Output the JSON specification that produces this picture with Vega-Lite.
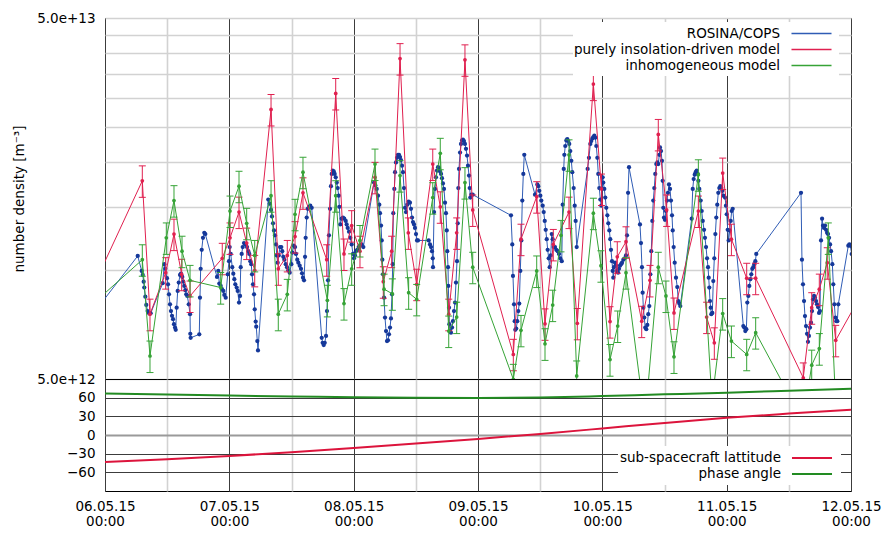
{
"$schema": "https://vega.github.io/schema/vega-lite/v6.json",
"background": "white",
"padding": {"left": 12, "top": 10, "right": 0, "bottom": 0},
"spacing": 0,
"bounds": "flush",
"config": {
 "font": "DejaVu Sans",
 "axis": {"labelFont": "DejaVu Sans", "labelFontSize": 13.5, "labelColor": "#000", "titleFont": "DejaVu Sans", "titleFontSize": 13.5, "titleFontWeight": "normal", "titleColor": "#000", "ticks": false, "domain": false, "gridOpacity": 1, "labelPadding": 10},
 "legend": {"labelFont": "DejaVu Sans", "labelFontSize": 13.5, "labelColor": "#000"},
 "view": {"stroke": "#000", "strokeWidth": 1}
},
"resolve": {"scale": {"x": "independent", "y": "independent", "color": "independent"}, "legend": {"color": "independent"}},
"datasets": {
"cops": [
{"t":"2015-05-05T22:04Z","v":7.70e12},{"t":"2015-05-06T06:19Z","v":10.96e12},{"t":"2015-05-06T07:05Z","v":9.96e12},{"t":"2015-05-06T07:17Z","v":9.71e12},{"t":"2015-05-06T07:28Z","v":9.30e12},{"t":"2015-05-06T07:35Z","v":8.96e12},{"t":"2015-05-06T07:47Z","v":8.45e12},{"t":"2015-05-06T07:58Z","v":8.02e12},{"t":"2015-05-06T08:14Z","v":7.71e12},{"t":"2015-05-06T08:30Z","v":7.60e12},{"t":"2015-05-06T08:49Z","v":7.60e12},
{"t":"2015-05-06T11:08Z","v":9.21e12},{"t":"2015-05-06T11:27Z","v":10.4e12},{"t":"2015-05-06T11:38Z","v":10.1e12},{"t":"2015-05-06T11:58Z","v":9.51e12},{"t":"2015-05-06T12:10Z","v":9.15e12},{"t":"2015-05-06T12:21Z","v":8.58e12},{"t":"2015-05-06T12:33Z","v":8.05e12},{"t":"2015-05-06T12:44Z","v":7.71e12},{"t":"2015-05-06T12:56Z","v":7.48e12},{"t":"2015-05-06T13:08Z","v":7.32e12},{"t":"2015-05-06T13:19Z","v":7.09e12},{"t":"2015-05-06T13:31Z","v":6.94e12},{"t":"2015-05-06T13:39Z","v":6.84e12},{"t":"2015-05-06T13:50Z","v":7.88e12},{"t":"2015-05-06T14:02Z","v":8.77e12},{"t":"2015-05-06T14:14Z","v":9.25e12},{"t":"2015-05-06T14:29Z","v":9.71e12},{"t":"2015-05-06T14:40Z","v":9.79e12},{"t":"2015-05-06T14:55Z","v":9.59e12},{"t":"2015-05-06T15:07Z","v":9.30e12},{"t":"2015-05-06T15:18Z","v":9.05e12},{"t":"2015-05-06T15:30Z","v":8.81e12},{"t":"2015-05-06T15:41Z","v":8.58e12},{"t":"2015-05-06T15:53Z","v":8.49e12},{"t":"2015-05-06T16:10Z","v":8.05e12},{"t":"2015-05-06T16:25Z","v":7.56e12},{"t":"2015-05-06T16:28Z","v":6.67e12},{"t":"2015-05-06T16:32Z","v":6.50e12},
{"t":"2015-05-06T18:12Z","v":6.65e12},{"t":"2015-05-06T18:20Z","v":8.40e12},{"t":"2015-05-06T18:28Z","v":10.1e12},{"t":"2015-05-06T18:40Z","v":11.4e12},{"t":"2015-05-06T18:55Z","v":12.3e12},{"t":"2015-05-06T19:10Z","v":12.7e12},{"t":"2015-05-06T19:22Z","v":12.6e12},
{"t":"2015-05-06T21:37Z","v":9.59e12},{"t":"2015-05-06T21:52Z","v":9.96e12},{"t":"2015-05-06T22:04Z","v":9.19e12},{"t":"2015-05-06T22:20Z","v":9.05e12},{"t":"2015-05-06T22:35Z","v":8.87e12},{"t":"2015-05-06T22:50Z","v":8.77e12},{"t":"2015-05-06T23:02Z","v":8.55e12},{"t":"2015-05-06T23:18Z","v":8.40e12},{"t":"2015-05-06T23:41Z","v":9.75e12},{"t":"2015-05-06T23:56Z","v":10.6e12},
{"t":"2015-05-07T00:04Z","v":11.6e12},{"t":"2015-05-07T00:16Z","v":11.1e12},{"t":"2015-05-07T00:34Z","v":10.2e12},{"t":"2015-05-07T00:46Z","v":9.79e12},{"t":"2015-05-07T00:58Z","v":9.45e12},{"t":"2015-05-07T01:09Z","v":9.15e12},{"t":"2015-05-07T01:25Z","v":8.96e12},{"t":"2015-05-07T01:37Z","v":8.77e12},{"t":"2015-05-07T01:52Z","v":8.14e12},{"t":"2015-05-07T02:04Z","v":8.49e12},{"t":"2015-05-07T02:12Z","v":10.2e12},{"t":"2015-05-07T02:23Z","v":11.1e12},{"t":"2015-05-07T02:35Z","v":11.6e12},{"t":"2015-05-07T02:50Z","v":11.9e12},{"t":"2015-05-07T03:10Z","v":11.8e12},{"t":"2015-05-07T03:25Z","v":11.6e12},{"t":"2015-05-07T03:40Z","v":11.3e12},{"t":"2015-05-07T03:51Z","v":11.1e12},{"t":"2015-05-07T04:03Z","v":10.6e12},{"t":"2015-05-07T04:14Z","v":10.4e12},{"t":"2015-05-07T04:23Z","v":9.75e12},{"t":"2015-05-07T04:34Z","v":9.15e12},{"t":"2015-05-07T04:46Z","v":8.58e12},{"t":"2015-05-07T04:54Z","v":7.80e12},{"t":"2015-05-07T05:05Z","v":7.21e12},{"t":"2015-05-07T05:12Z","v":6.98e12},{"t":"2015-05-07T05:24Z","v":6.37e12},{"t":"2015-05-07T05:32Z","v":6.00e12},
{"t":"2015-05-07T07:31Z","v":15.7e12},{"t":"2015-05-07T07:47Z","v":15.3e12},{"t":"2015-05-07T08:03Z","v":14.7e12},{"t":"2015-05-07T08:14Z","v":14.1e12},{"t":"2015-05-07T08:26Z","v":13.5e12},{"t":"2015-05-07T08:37Z","v":12.9e12},{"t":"2015-05-07T08:49Z","v":12.5e12},{"t":"2015-05-07T09:01Z","v":11.8e12},{"t":"2015-05-07T09:09Z","v":11.0e12},{"t":"2015-05-07T09:20Z","v":10.5e12},{"t":"2015-05-07T09:32Z","v":11.0e12},{"t":"2015-05-07T09:47Z","v":11.6e12},{"t":"2015-05-07T10:02Z","v":11.6e12},{"t":"2015-05-07T10:13Z","v":11.3e12},{"t":"2015-05-07T10:25Z","v":10.9e12},{"t":"2015-05-07T10:37Z","v":10.7e12},{"t":"2015-05-07T10:53Z","v":10.4e12},{"t":"2015-05-07T11:08Z","v":10.2e12},{"t":"2015-05-07T11:23Z","v":10.0e12},{"t":"2015-05-07T11:39Z","v":9.85e12},{"t":"2015-05-07T11:58Z","v":10.4e12},{"t":"2015-05-07T12:09Z","v":11.2e12},{"t":"2015-05-07T12:26Z","v":11.7e12},{"t":"2015-05-07T12:41Z","v":11.6e12},{"t":"2015-05-07T12:52Z","v":11.1e12},{"t":"2015-05-07T13:07Z","v":10.7e12},{"t":"2015-05-07T13:19Z","v":10.5e12},{"t":"2015-05-07T13:35Z","v":10.3e12},{"t":"2015-05-07T13:50Z","v":10.1e12},{"t":"2015-05-07T14:02Z","v":9.81e12},{"t":"2015-05-07T14:13Z","v":9.54e12},{"t":"2015-05-07T14:25Z","v":9.38e12},{"t":"2015-05-07T14:37Z","v":10.9e12},{"t":"2015-05-07T14:44Z","v":12.3e12},{"t":"2015-05-07T14:56Z","v":14.0e12},{"t":"2015-05-07T15:08Z","v":14.8e12},{"t":"2015-05-07T15:23Z","v":15.0e12},{"t":"2015-05-07T15:38Z","v":15.1e12},{"t":"2015-05-07T15:54Z","v":14.9e12},
{"t":"2015-05-07T17:50Z","v":6.50e12},{"t":"2015-05-07T18:01Z","v":6.30e12},{"t":"2015-05-07T18:13Z","v":6.21e12},{"t":"2015-05-07T18:25Z","v":6.30e12},{"t":"2015-05-07T18:40Z","v":6.58e12},{"t":"2015-05-07T18:51Z","v":7.71e12},{"t":"2015-05-07T19:03Z","v":9.38e12},{"t":"2015-05-07T19:14Z","v":12.5e12},{"t":"2015-05-07T19:26Z","v":14.8e12},{"t":"2015-05-07T19:37Z","v":17.1e12},{"t":"2015-05-07T19:46Z","v":18.5e12},{"t":"2015-05-07T19:57Z","v":18.9e12},{"t":"2015-05-07T20:09Z","v":18.8e12},{"t":"2015-05-07T20:20Z","v":18.5e12},{"t":"2015-05-07T20:32Z","v":18.1e12},{"t":"2015-05-07T20:44Z","v":17.5e12},{"t":"2015-05-07T20:55Z","v":16.9e12},{"t":"2015-05-07T21:07Z","v":16.1e12},{"t":"2015-05-07T21:14Z","v":15.0e12},{"t":"2015-05-07T21:25Z","v":13.4e12},{"t":"2015-05-07T21:41Z","v":13.9e12},{"t":"2015-05-07T21:56Z","v":14.0e12},{"t":"2015-05-07T22:11Z","v":13.9e12},{"t":"2015-05-07T22:28Z","v":13.7e12},{"t":"2015-05-07T22:39Z","v":13.4e12},{"t":"2015-05-07T22:51Z","v":13.1e12},{"t":"2015-05-07T23:06Z","v":12.8e12},{"t":"2015-05-07T23:21Z","v":12.3e12},{"t":"2015-05-07T23:37Z","v":11.8e12},{"t":"2015-05-07T23:52Z","v":11.1e12},
{"t":"2015-05-08T00:04Z","v":10.8e12},{"t":"2015-05-08T00:15Z","v":11.0e12},{"t":"2015-05-08T00:27Z","v":11.3e12},{"t":"2015-05-08T00:42Z","v":11.4e12},{"t":"2015-05-08T00:58Z","v":11.6e12},{"t":"2015-05-08T01:13Z","v":11.7e12},{"t":"2015-05-08T01:33Z","v":11.8e12},{"t":"2015-05-08T01:52Z","v":11.6e12},
{"t":"2015-05-08T03:56Z","v":17.5e12},{"t":"2015-05-08T04:11Z","v":17.2e12},{"t":"2015-05-08T04:27Z","v":16.8e12},{"t":"2015-05-08T04:42Z","v":16.1e12},{"t":"2015-05-08T04:57Z","v":15.2e12},{"t":"2015-05-08T05:05Z","v":14.4e12},{"t":"2015-05-08T05:17Z","v":13.3e12},{"t":"2015-05-08T05:25Z","v":12.1e12},{"t":"2015-05-08T05:32Z","v":10.7e12},{"t":"2015-05-08T05:40Z","v":9.75e12},{"t":"2015-05-08T05:52Z","v":8.40e12},{"t":"2015-05-08T06:03Z","v":7.40e12},{"t":"2015-05-08T06:15Z","v":6.79e12},{"t":"2015-05-08T06:26Z","v":6.37e12},{"t":"2015-05-08T06:38Z","v":6.40e12},{"t":"2015-05-08T06:49Z","v":6.65e12},{"t":"2015-05-08T07:01Z","v":6.94e12},{"t":"2015-05-08T07:12Z","v":7.36e12},{"t":"2015-05-08T07:24Z","v":8.58e12},{"t":"2015-05-08T07:32Z","v":10.4e12},{"t":"2015-05-08T07:39Z","v":14.4e12},{"t":"2015-05-08T07:51Z","v":16.8e12},{"t":"2015-05-08T07:59Z","v":18.7e12},{"t":"2015-05-08T08:10Z","v":19.9e12},{"t":"2015-05-08T08:22Z","v":20.5e12},{"t":"2015-05-08T08:33Z","v":20.9e12},{"t":"2015-05-08T08:45Z","v":20.9e12},{"t":"2015-05-08T08:57Z","v":20.6e12},{"t":"2015-05-08T09:08Z","v":20.2e12},{"t":"2015-05-08T09:20Z","v":19.5e12},{"t":"2015-05-08T09:31Z","v":18.7e12},{"t":"2015-05-08T09:43Z","v":16.9e12},{"t":"2015-05-08T09:55Z","v":14.9e12},{"t":"2015-05-08T10:06Z","v":14.5e12},{"t":"2015-05-08T10:21Z","v":15.2e12},{"t":"2015-05-08T10:37Z","v":15.5e12},{"t":"2015-05-08T10:52Z","v":15.4e12},{"t":"2015-05-08T11:04Z","v":14.8e12},{"t":"2015-05-08T11:16Z","v":14.0e12},{"t":"2015-05-08T11:27Z","v":13.6e12},{"t":"2015-05-08T11:39Z","v":13.4e12},{"t":"2015-05-08T11:50Z","v":13.1e12},{"t":"2015-05-08T12:02Z","v":12.6e12},{"t":"2015-05-08T12:14Z","v":12.1e12},{"t":"2015-05-08T12:25Z","v":12.1e12},
{"t":"2015-05-08T14:29Z","v":12.1e12},{"t":"2015-05-08T14:44Z","v":11.8e12},{"t":"2015-05-08T14:56Z","v":11.6e12},{"t":"2015-05-08T15:07Z","v":11.3e12},{"t":"2015-05-08T15:16Z","v":10.8e12},{"t":"2015-05-08T15:19Z","v":10.2e12},{"t":"2015-05-08T15:31Z","v":14.5e12},{"t":"2015-05-08T15:42Z","v":16.8e12},{"t":"2015-05-08T15:53Z","v":18.1e12},{"t":"2015-05-08T16:05Z","v":18.9e12},{"t":"2015-05-08T16:17Z","v":19.3e12},{"t":"2015-05-08T16:28Z","v":19.2e12},{"t":"2015-05-08T16:40Z","v":18.8e12},{"t":"2015-05-08T16:52Z","v":18.5e12},{"t":"2015-05-08T17:03Z","v":18.0e12},{"t":"2015-05-08T17:14Z","v":17.4e12},{"t":"2015-05-08T17:26Z","v":16.8e12},{"t":"2015-05-08T17:38Z","v":15.4e12},{"t":"2015-05-08T17:49Z","v":14.4e12},{"t":"2015-05-08T17:58Z","v":12.9e12},{"t":"2015-05-08T18:04Z","v":11.3e12},{"t":"2015-05-08T18:13Z","v":10.2e12},{"t":"2015-05-08T18:16Z","v":9.05e12},{"t":"2015-05-08T18:24Z","v":7.88e12},{"t":"2015-05-08T18:28Z","v":7.09e12},{"t":"2015-05-08T18:36Z","v":6.79e12},{"t":"2015-05-08T18:47Z","v":6.72e12},{"t":"2015-05-08T18:59Z","v":6.94e12},{"t":"2015-05-08T19:10Z","v":7.23e12},{"t":"2015-05-08T19:22Z","v":7.71e12},{"t":"2015-05-08T19:34Z","v":8.14e12},{"t":"2015-05-08T19:45Z","v":9.25e12},{"t":"2015-05-08T19:57Z","v":10.6e12},{"t":"2015-05-08T20:05Z","v":13.5e12},{"t":"2015-05-08T20:12Z","v":16.9e12},{"t":"2015-05-08T20:20Z","v":19.1e12},{"t":"2015-05-08T20:32Z","v":21.2e12},{"t":"2015-05-08T20:43Z","v":22.4e12},{"t":"2015-05-08T20:55Z","v":22.9e12},{"t":"2015-05-08T21:06Z","v":23.0e12},{"t":"2015-05-08T21:18Z","v":22.8e12},{"t":"2015-05-08T21:29Z","v":22.4e12},{"t":"2015-05-08T21:41Z","v":21.7e12},{"t":"2015-05-08T21:53Z","v":20.8e12},{"t":"2015-05-08T22:04Z","v":19.5e12},{"t":"2015-05-08T22:16Z","v":18.3e12},{"t":"2015-05-08T22:24Z","v":16.9e12},{"t":"2015-05-08T22:31Z","v":15.9e12},{"t":"2015-05-08T22:43Z","v":16.2e12},{"t":"2015-05-08T22:59Z","v":16.2e12},
{"t":"2015-05-09T06:22Z","v":14.2e12},{"t":"2015-05-09T06:37Z","v":11.8e12},{"t":"2015-05-09T06:45Z","v":9.65e12},{"t":"2015-05-09T06:57Z","v":8.05e12},{"t":"2015-05-09T07:05Z","v":7.23e12},{"t":"2015-05-09T07:12Z","v":6.84e12},{"t":"2015-05-09T07:23Z","v":6.90e12},{"t":"2015-05-09T07:35Z","v":7.23e12},{"t":"2015-05-09T07:47Z","v":7.71e12},{"t":"2015-05-09T07:58Z","v":8.09e12},{"t":"2015-05-09T08:10Z","v":9.96e12},{"t":"2015-05-09T08:22Z","v":12.1e12},{"t":"2015-05-09T08:33Z","v":15.6e12},{"t":"2015-05-09T08:45Z","v":18.5e12},{"t":"2015-05-09T08:56Z","v":20.9e12},
{"t":"2015-05-09T11:00Z","v":16.2e12},{"t":"2015-05-09T11:27Z","v":17.3e12},{"t":"2015-05-09T11:38Z","v":17.1e12},{"t":"2015-05-09T11:50Z","v":16.6e12},{"t":"2015-05-09T12:02Z","v":16.1e12},{"t":"2015-05-09T12:13Z","v":15.6e12},{"t":"2015-05-09T12:29Z","v":15.1e12},{"t":"2015-05-09T12:41Z","v":14.5e12},{"t":"2015-05-09T12:53Z","v":13.7e12},{"t":"2015-05-09T13:04Z","v":12.95e12},{"t":"2015-05-09T13:16Z","v":12.2e12},{"t":"2015-05-09T13:27Z","v":11.4e12},{"t":"2015-05-09T13:39Z","v":10.8e12},{"t":"2015-05-09T13:50Z","v":10.2e12},{"t":"2015-05-09T14:02Z","v":11.0e12},{"t":"2015-05-09T14:14Z","v":12.6e12},{"t":"2015-05-09T14:25Z","v":12.2e12},{"t":"2015-05-09T14:37Z","v":11.6e12},{"t":"2015-05-09T14:52Z","v":11.6e12},{"t":"2015-05-09T15:07Z","v":11.4e12},{"t":"2015-05-09T15:23Z","v":11.3e12},{"t":"2015-05-09T15:38Z","v":11.1e12},{"t":"2015-05-09T15:53Z","v":10.8e12},{"t":"2015-05-09T16:10Z","v":10.6e12},{"t":"2015-05-09T16:21Z","v":15.2e12},{"t":"2015-05-09T16:33Z","v":19.1e12},{"t":"2015-05-09T16:40Z","v":20.9e12},{"t":"2015-05-09T16:51Z","v":22.1e12},{"t":"2015-05-09T17:03Z","v":22.9e12},{"t":"2015-05-09T17:14Z","v":23.1e12},{"t":"2015-05-09T17:26Z","v":22.8e12},{"t":"2015-05-09T17:37Z","v":22.4e12},{"t":"2015-05-09T17:49Z","v":21.4e12},{"t":"2015-05-09T18:01Z","v":20.1e12},{"t":"2015-05-09T18:12Z","v":18.7e12},{"t":"2015-05-09T18:28Z","v":16.9e12},{"t":"2015-05-09T18:40Z","v":15.1e12},{"t":"2015-05-09T18:51Z","v":13.7e12},{"t":"2015-05-09T19:03Z","v":11.6e12},
{"t":"2015-05-09T21:10Z","v":19.1e12},{"t":"2015-05-09T21:25Z","v":20.5e12},{"t":"2015-05-09T21:41Z","v":22.4e12},{"t":"2015-05-09T21:52Z","v":22.8e12},{"t":"2015-05-09T22:04Z","v":23.2e12},{"t":"2015-05-09T22:16Z","v":23.4e12},{"t":"2015-05-09T22:27Z","v":23.6e12},{"t":"2015-05-09T22:38Z","v":23.3e12},{"t":"2015-05-09T22:50Z","v":22.1e12},{"t":"2015-05-09T23:02Z","v":20.5e12},{"t":"2015-05-09T23:13Z","v":18.5e12},{"t":"2015-05-09T23:25Z","v":16.9e12},{"t":"2015-05-09T23:37Z","v":15.7e12},{"t":"2015-05-09T23:48Z","v":15.1e12},
{"t":"2015-05-10T00:04Z","v":18.1e12},{"t":"2015-05-10T00:11Z","v":17.5e12},{"t":"2015-05-10T00:23Z","v":16.8e12},{"t":"2015-05-10T00:34Z","v":15.9e12},{"t":"2015-05-10T00:46Z","v":14.9e12},{"t":"2015-05-10T00:58Z","v":14.2e12},{"t":"2015-05-10T01:09Z","v":13.5e12},{"t":"2015-05-10T01:21Z","v":12.9e12},{"t":"2015-05-10T01:32Z","v":12.2e12},{"t":"2015-05-10T01:40Z","v":11.4e12},{"t":"2015-05-10T01:52Z","v":10.6e12},{"t":"2015-05-10T02:00Z","v":9.96e12},{"t":"2015-05-10T02:07Z","v":9.54e12},{"t":"2015-05-10T02:15Z","v":10.2e12},{"t":"2015-05-10T02:27Z","v":10.5e12},{"t":"2015-05-10T02:38Z","v":10.3e12},{"t":"2015-05-10T02:50Z","v":9.96e12},{"t":"2015-05-10T03:02Z","v":9.85e12},{"t":"2015-05-10T03:13Z","v":10.1e12},{"t":"2015-05-10T03:25Z","v":10.3e12},{"t":"2015-05-10T03:37Z","v":10.4e12},{"t":"2015-05-10T03:48Z","v":10.5e12},{"t":"2015-05-10T04:03Z","v":10.7e12},{"t":"2015-05-10T04:19Z","v":10.8e12},{"t":"2015-05-10T04:34Z","v":11.0e12},{"t":"2015-05-10T04:46Z","v":12.5e12},{"t":"2015-05-10T04:58Z","v":16.4e12},{"t":"2015-05-10T05:09Z","v":19.3e12},
{"t":"2015-05-10T07:16Z","v":13.4e12},{"t":"2015-05-10T07:28Z","v":11.9e12},{"t":"2015-05-10T07:39Z","v":10.2e12},{"t":"2015-05-10T07:47Z","v":8.67e12},{"t":"2015-05-10T07:55Z","v":7.88e12},{"t":"2015-05-10T08:06Z","v":7.40e12},{"t":"2015-05-10T08:17Z","v":6.94e12},{"t":"2015-05-10T08:29Z","v":6.87e12},{"t":"2015-05-10T08:41Z","v":7.06e12},{"t":"2015-05-10T08:52Z","v":7.56e12},{"t":"2015-05-10T09:04Z","v":7.96e12},{"t":"2015-05-10T09:16Z","v":9.75e12},{"t":"2015-05-10T09:27Z","v":11.3e12},{"t":"2015-05-10T09:39Z","v":13.7e12},{"t":"2015-05-10T09:50Z","v":15.6e12},{"t":"2015-05-10T10:02Z","v":16.9e12},{"t":"2015-05-10T10:13Z","v":18.5e12},{"t":"2015-05-10T10:25Z","v":19.7e12},{"t":"2015-05-10T10:37Z","v":19.9e12},{"t":"2015-05-10T10:48Z","v":19.7e12},{"t":"2015-05-10T11:00Z","v":20.9e12},{"t":"2015-05-10T11:08Z","v":21.9e12},{"t":"2015-05-10T11:20Z","v":21.4e12},{"t":"2015-05-10T11:31Z","v":20.1e12},{"t":"2015-05-10T11:39Z","v":17.7e12},{"t":"2015-05-10T11:46Z","v":14.9e12},{"t":"2015-05-10T11:54Z","v":14.0e12},{"t":"2015-05-10T12:05Z","v":13.8e12},{"t":"2015-05-10T12:17Z","v":14.6e12},{"t":"2015-05-10T12:29Z","v":15.6e12},{"t":"2015-05-10T12:40Z","v":16.4e12},{"t":"2015-05-10T12:52Z","v":17.3e12},{"t":"2015-05-10T13:04Z","v":16.8e12},{"t":"2015-05-10T13:15Z","v":15.6e12},{"t":"2015-05-10T13:27Z","v":14.2e12},{"t":"2015-05-10T13:35Z","v":12.9e12},{"t":"2015-05-10T13:46Z","v":11.6e12},{"t":"2015-05-10T13:58Z","v":10.5e12},{"t":"2015-05-10T14:13Z","v":9.54e12},{"t":"2015-05-10T14:28Z","v":8.99e12},{"t":"2015-05-10T14:40Z","v":8.22e12},{"t":"2015-05-10T14:52Z","v":8.09e12},{"t":"2015-05-10T15:03Z","v":7.96e12},
{"t":"2015-05-10T17:15Z","v":13.9e12},{"t":"2015-05-10T17:27Z","v":16.8e12},{"t":"2015-05-10T17:38Z","v":17.9e12},{"t":"2015-05-10T17:50Z","v":18.4e12},{"t":"2015-05-10T18:01Z","v":18.7e12},{"t":"2015-05-10T18:13Z","v":18.9e12},{"t":"2015-05-10T18:25Z","v":18.5e12},{"t":"2015-05-10T18:32Z","v":17.7e12},{"t":"2015-05-10T18:43Z","v":16.8e12},{"t":"2015-05-10T18:59Z","v":15.6e12},{"t":"2015-05-10T19:11Z","v":14.6e12},{"t":"2015-05-10T19:23Z","v":13.7e12},{"t":"2015-05-10T19:38Z","v":12.95e12},{"t":"2015-05-10T19:49Z","v":12.3e12},{"t":"2015-05-10T20:01Z","v":11.6e12},{"t":"2015-05-10T20:13Z","v":10.8e12},{"t":"2015-05-10T20:24Z","v":10.2e12},{"t":"2015-05-10T20:32Z","v":9.54e12},{"t":"2015-05-10T20:39Z","v":8.96e12},{"t":"2015-05-10T20:47Z","v":8.22e12},{"t":"2015-05-10T20:55Z","v":7.88e12},{"t":"2015-05-10T21:02Z","v":7.56e12},{"t":"2015-05-10T21:14Z","v":7.62e12},{"t":"2015-05-10T21:25Z","v":9.34e12},{"t":"2015-05-10T21:37Z","v":10.8e12},{"t":"2015-05-10T21:49Z","v":12.6e12},{"t":"2015-05-10T22:00Z","v":14.0e12},{"t":"2015-05-10T22:11Z","v":15.2e12},{"t":"2015-05-10T22:23Z","v":16.4e12},{"t":"2015-05-10T22:35Z","v":16.9e12},{"t":"2015-05-10T22:46Z","v":17.1e12},{"t":"2015-05-10T22:58Z","v":16.9e12},{"t":"2015-05-10T23:10Z","v":16.6e12},{"t":"2015-05-10T23:21Z","v":16.1e12},{"t":"2015-05-10T23:41Z","v":15.9e12},{"t":"2015-05-10T23:52Z","v":15.1e12},
{"t":"2015-05-11T00:01Z","v":14.3e12},{"t":"2015-05-11T00:12Z","v":12.95e12},{"t":"2015-05-11T00:23Z","v":12.1e12},{"t":"2015-05-11T00:35Z","v":12.9e12},{"t":"2015-05-11T00:47Z","v":13.7e12},{"t":"2015-05-11T00:58Z","v":14.6e12},{"t":"2015-05-11T01:10Z","v":14.8e12},
{"t":"2015-05-11T03:13Z","v":7.01e12},{"t":"2015-05-11T03:24Z","v":6.94e12},{"t":"2015-05-11T03:36Z","v":6.79e12},{"t":"2015-05-11T03:48Z","v":6.87e12},{"t":"2015-05-11T03:59Z","v":8.14e12},{"t":"2015-05-11T04:11Z","v":8.49e12},{"t":"2015-05-11T04:22Z","v":9.05e12},{"t":"2015-05-11T04:34Z","v":9.45e12},{"t":"2015-05-11T04:45Z","v":9.75e12},{"t":"2015-05-11T04:57Z","v":10.1e12},{"t":"2015-05-11T05:08Z","v":10.2e12},{"t":"2015-05-11T05:20Z","v":10.4e12},{"t":"2015-05-11T05:32Z","v":10.6e12},{"t":"2015-05-11T05:43Z","v":11.1e12},
{"t":"2015-05-11T14:21Z","v":16.4e12},{"t":"2015-05-11T14:32Z","v":10.7e12},{"t":"2015-05-11T14:44Z","v":9.15e12},{"t":"2015-05-11T14:56Z","v":8.22e12},{"t":"2015-05-11T15:07Z","v":7.47e12},{"t":"2015-05-11T15:19Z","v":7.01e12},{"t":"2015-05-11T15:31Z","v":6.67e12},{"t":"2015-05-11T15:42Z","v":6.34e12},{"t":"2015-05-11T15:53Z","v":6.58e12},{"t":"2015-05-11T16:05Z","v":6.94e12},{"t":"2015-05-11T16:17Z","v":7.16e12},{"t":"2015-05-11T16:28Z","v":7.71e12},{"t":"2015-05-11T16:40Z","v":8.31e12},{"t":"2015-05-11T16:52Z","v":8.49e12},{"t":"2015-05-11T17:03Z","v":8.40e12},{"t":"2015-05-11T17:15Z","v":8.22e12},{"t":"2015-05-11T17:26Z","v":8.05e12},{"t":"2015-05-11T17:38Z","v":7.91e12},{"t":"2015-05-11T17:50Z","v":7.62e12},{"t":"2015-05-11T18:01Z","v":7.71e12},{"t":"2015-05-11T18:13Z","v":12.1e12},{"t":"2015-05-11T18:25Z","v":13.9e12},{"t":"2015-05-11T18:36Z","v":13.3e12},{"t":"2015-05-11T18:48Z","v":13.1e12},{"t":"2015-05-11T18:59Z","v":13.3e12},{"t":"2015-05-11T19:11Z","v":12.95e12},{"t":"2015-05-11T19:23Z","v":12.7e12},{"t":"2015-05-11T19:34Z","v":12.6e12},{"t":"2015-05-11T19:46Z","v":12.3e12},{"t":"2015-05-11T19:58Z","v":11.8e12},{"t":"2015-05-11T20:09Z","v":11.3e12},{"t":"2015-05-11T20:24Z","v":10.4e12},{"t":"2015-05-11T20:35Z","v":9.15e12},{"t":"2015-05-11T20:47Z","v":8.05e12},{"t":"2015-05-11T20:59Z","v":7.40e12},{"t":"2015-05-11T21:10Z","v":7.23e12},{"t":"2015-05-11T21:22Z","v":7.23e12},{"t":"2015-05-11T21:33Z","v":8.05e12},
{"t":"2015-05-11T23:29Z","v":11.7e12},{"t":"2015-05-11T23:41Z","v":11.8e12},{"t":"2015-05-11T23:52Z","v":11.7e12},{"t":"2015-05-12T00:08Z","v":11.1e12}
],
"insol": [
{"t":"2015-05-05T22:04Z","v":9.23e12,"lo":8.31e12,"hi":10.15e12},{"t":"2015-05-06T07:12Z","v":17.7e12,"lo":15.93e12,"hi":19.47e12},{"t":"2015-05-06T08:41Z","v":7.56e12,"lo":6.80e12,"hi":8.32e12},{"t":"2015-05-06T11:43Z","v":9.85e12,"lo":8.87e12,"hi":10.84e12},{"t":"2015-05-06T13:19Z","v":12.6e12,"lo":11.34e12,"hi":13.86e12},{"t":"2015-05-06T14:48Z","v":9.75e12,"lo":8.78e12,"hi":10.73e12},{"t":"2015-05-06T16:25Z","v":8.49e12,"lo":7.64e12,"hi":9.34e12},{"t":"2015-05-06T22:38Z","v":10.8e12,"lo":9.72e12,"hi":11.88e12},
{"t":"2015-05-07T00:08Z","v":12.3e12,"lo":11.07e12,"hi":13.53e12},{"t":"2015-05-07T01:52Z","v":14.5e12,"lo":13.05e12,"hi":15.95e12},{"t":"2015-05-07T03:21Z","v":11.9e12,"lo":10.71e12,"hi":13.09e12},{"t":"2015-05-07T04:54Z","v":10.0e12,"lo":9.0e12,"hi":11.0e12},{"t":"2015-05-07T08:03Z","v":27.9e12,"lo":25.11e12,"hi":30.69e12},{"t":"2015-05-07T09:27Z","v":10.1e12,"lo":9.09e12,"hi":11.11e12},{"t":"2015-05-07T11:11Z","v":11.0e12,"lo":9.9e12,"hi":12.1e12},{"t":"2015-05-07T12:41Z","v":12.4e12,"lo":11.16e12,"hi":13.64e12},{"t":"2015-05-07T14:13Z","v":16.4e12,"lo":14.76e12,"hi":18.04e12},{"t":"2015-05-07T18:48Z","v":10.7e12,"lo":9.63e12,"hi":11.77e12},{"t":"2015-05-07T20:32Z","v":30.9e12,"lo":27.81e12,"hi":33.99e12},{"t":"2015-05-07T22:08Z","v":11.1e12,"lo":9.99e12,"hi":12.21e12},{"t":"2015-05-07T23:37Z","v":13.3e12,"lo":11.97e12,"hi":14.63e12},
{"t":"2015-05-08T01:13Z","v":11.3e12,"lo":10.17e12,"hi":12.43e12},{"t":"2015-05-08T04:07Z","v":18.1e12,"lo":16.29e12,"hi":19.91e12},{"t":"2015-05-08T05:43Z","v":9.30e12,"lo":8.37e12,"hi":10.23e12},{"t":"2015-05-08T07:20Z","v":11.3e12,"lo":10.17e12,"hi":12.43e12},{"t":"2015-05-08T08:57Z","v":38.6e12,"lo":34.74e12,"hi":42.46e12},{"t":"2015-05-08T10:33Z","v":12.7e12,"lo":11.43e12,"hi":13.97e12},{"t":"2015-05-08T12:10Z","v":9.15e12,"lo":8.24e12,"hi":10.07e12},{"t":"2015-05-08T15:16Z","v":19.7e12,"lo":17.73e12,"hi":21.67e12},{"t":"2015-05-08T16:43Z","v":15.0e12,"lo":13.5e12,"hi":16.5e12},{"t":"2015-05-08T18:21Z","v":7.56e12,"lo":6.80e12,"hi":8.32e12},{"t":"2015-05-08T19:53Z","v":12.7e12,"lo":11.43e12,"hi":13.97e12},{"t":"2015-05-08T21:29Z","v":38.3e12,"lo":34.47e12,"hi":42.13e12},{"t":"2015-05-08T22:59Z","v":14.7e12,"lo":13.23e12,"hi":16.17e12},
{"t":"2015-05-09T06:49Z","v":5.85e12,"lo":5.27e12,"hi":6.44e12},{"t":"2015-05-09T08:18Z","v":12.2e12,"lo":10.98e12,"hi":13.42e12},{"t":"2015-05-09T11:20Z","v":16.0e12,"lo":14.4e12,"hi":17.6e12},{"t":"2015-05-09T12:56Z","v":7.11e12,"lo":6.40e12,"hi":7.82e12},{"t":"2015-05-09T14:32Z","v":11.8e12,"lo":10.62e12,"hi":12.98e12},{"t":"2015-05-09T17:34Z","v":14.5e12,"lo":13.05e12,"hi":15.95e12},{"t":"2015-05-09T19:10Z","v":7.13e12,"lo":6.42e12,"hi":7.84e12},{"t":"2015-05-09T22:16Z","v":32.8e12,"lo":29.52e12,"hi":36.08e12},{"t":"2015-05-09T23:50Z","v":16.8e12,"lo":15.12e12,"hi":18.48e12},
{"t":"2015-05-10T01:29Z","v":7.21e12,"lo":6.49e12,"hi":7.93e12},{"t":"2015-05-10T02:53Z","v":10.9e12,"lo":9.81e12,"hi":11.99e12},{"t":"2015-05-10T04:34Z","v":12.0e12,"lo":10.8e12,"hi":13.2e12},{"t":"2015-05-10T07:36Z","v":7.23e12,"lo":6.51e12,"hi":7.95e12},{"t":"2015-05-10T09:12Z","v":9.38e12,"lo":8.44e12,"hi":10.32e12},{"t":"2015-05-10T10:48Z","v":23.8e12,"lo":21.42e12,"hi":26.18e12},{"t":"2015-05-10T12:25Z","v":14.7e12,"lo":13.23e12,"hi":16.17e12},{"t":"2015-05-10T13:50Z","v":7.62e12,"lo":6.86e12,"hi":8.38e12},{"t":"2015-05-10T18:32Z","v":14.6e12,"lo":13.14e12,"hi":16.06e12},{"t":"2015-05-10T20:08Z","v":7.42e12,"lo":6.68e12,"hi":8.16e12},{"t":"2015-05-10T21:37Z","v":6.30e12,"lo":5.67e12,"hi":6.93e12},{"t":"2015-05-10T23:14Z","v":18.6e12,"lo":16.74e12,"hi":20.46e12},
{"t":"2015-05-11T00:55Z","v":12.2e12,"lo":10.98e12,"hi":13.42e12},{"t":"2015-05-11T03:52Z","v":9.51e12,"lo":8.56e12,"hi":10.46e12},{"t":"2015-05-11T05:36Z","v":9.51e12,"lo":8.56e12,"hi":10.46e12},{"t":"2015-05-11T14:47Z","v":5.04e12,"lo":4.54e12,"hi":5.54e12},{"t":"2015-05-11T16:25Z","v":7.88e12,"lo":7.09e12,"hi":8.67e12},{"t":"2015-05-11T17:53Z","v":8.87e12,"lo":7.98e12,"hi":9.76e12},{"t":"2015-05-11T19:25Z","v":10.5e12,"lo":9.45e12,"hi":11.55e12},{"t":"2015-05-11T21:03Z","v":6.40e12,"lo":5.76e12,"hi":7.04e12},{"t":"2015-05-12T01:44Z","v":8.44e12,"lo":7.60e12,"hi":9.28e12}
],
"inhom": [
{"t":"2015-05-05T22:04Z","v":8.17e12,"lo":7.35e12,"hi":8.99e12},{"t":"2015-05-06T07:12Z","v":10.7e12,"lo":9.63e12,"hi":11.77e12},{"t":"2015-05-06T08:41Z","v":5.79e12,"lo":5.21e12,"hi":6.37e12},{"t":"2015-05-06T11:50Z","v":12.3e12,"lo":11.07e12,"hi":13.53e12},{"t":"2015-05-06T13:19Z","v":15.6e12,"lo":14.04e12,"hi":17.16e12},{"t":"2015-05-06T14:52Z","v":11.3e12,"lo":10.17e12,"hi":12.43e12},{"t":"2015-05-06T16:25Z","v":9.38e12,"lo":8.44e12,"hi":10.32e12},{"t":"2015-05-06T22:20Z","v":8.96e12,"lo":8.06e12,"hi":9.86e12},
{"t":"2015-05-07T00:08Z","v":14.6e12,"lo":13.14e12,"hi":16.06e12},{"t":"2015-05-07T01:52Z","v":17.1e12,"lo":15.39e12,"hi":18.81e12},{"t":"2015-05-07T03:21Z","v":13.5e12,"lo":12.15e12,"hi":14.85e12},{"t":"2015-05-07T04:54Z","v":11.0e12,"lo":9.9e12,"hi":12.1e12},{"t":"2015-05-07T08:03Z","v":16.1e12,"lo":14.49e12,"hi":17.71e12},{"t":"2015-05-07T09:27Z","v":7.56e12,"lo":6.80e12,"hi":8.32e12},{"t":"2015-05-07T11:11Z","v":8.58e12,"lo":7.72e12,"hi":9.44e12},{"t":"2015-05-07T12:41Z","v":14.3e12,"lo":12.87e12,"hi":15.73e12},{"t":"2015-05-07T14:13Z","v":18.7e12,"lo":16.83e12,"hi":20.57e12},{"t":"2015-05-07T18:55Z","v":8.26e12,"lo":7.43e12,"hi":9.09e12},{"t":"2015-05-07T20:32Z","v":16.1e12,"lo":14.49e12,"hi":17.71e12},{"t":"2015-05-07T22:08Z","v":8.09e12,"lo":7.28e12,"hi":8.90e12},{"t":"2015-05-07T23:37Z","v":10.1e12,"lo":9.09e12,"hi":11.11e12},
{"t":"2015-05-08T01:13Z","v":12.1e12,"lo":10.89e12,"hi":13.31e12},{"t":"2015-05-08T04:07Z","v":19.7e12,"lo":17.73e12,"hi":21.67e12},{"t":"2015-05-08T05:52Z","v":8.87e12,"lo":7.98e12,"hi":9.76e12},{"t":"2015-05-08T07:28Z","v":8.61e12,"lo":7.75e12,"hi":9.47e12},{"t":"2015-05-08T08:57Z","v":18.3e12,"lo":16.47e12,"hi":20.13e12},{"t":"2015-05-08T10:37Z","v":8.67e12,"lo":7.80e12,"hi":9.54e12},{"t":"2015-05-08T12:10Z","v":8.31e12,"lo":7.48e12,"hi":9.14e12},{"t":"2015-05-08T15:16Z","v":15.9e12,"lo":14.31e12,"hi":17.49e12},{"t":"2015-05-08T16:43Z","v":21.1e12,"lo":18.99e12,"hi":23.21e12},{"t":"2015-05-08T18:21Z","v":6.79e12,"lo":6.11e12,"hi":7.47e12},{"t":"2015-05-08T19:53Z","v":7.42e12,"lo":6.68e12,"hi":8.16e12},{"t":"2015-05-08T21:29Z","v":17.5e12,"lo":15.75e12,"hi":19.25e12},{"t":"2015-05-08T22:59Z","v":10.2e12,"lo":9.18e12,"hi":11.22e12},
{"t":"2015-05-09T06:49Z","v":4.99e12,"lo":4.49e12,"hi":5.49e12},{"t":"2015-05-09T08:18Z","v":6.82e12,"lo":6.14e12,"hi":7.50e12},{"t":"2015-05-09T11:20Z","v":9.96e12,"lo":8.96e12,"hi":10.96e12},{"t":"2015-05-09T12:56Z","v":6.26e12,"lo":5.63e12,"hi":6.89e12},{"t":"2015-05-09T14:25Z","v":8.01e12,"lo":7.21e12,"hi":8.81e12},{"t":"2015-05-09T16:01Z","v":12.5e12,"lo":11.25e12,"hi":13.75e12},{"t":"2015-05-09T17:34Z","v":20.9e12,"lo":18.81e12,"hi":22.99e12},{"t":"2015-05-09T19:03Z","v":5.10e12,"lo":4.59e12,"hi":5.61e12},{"t":"2015-05-09T22:16Z","v":14.4e12,"lo":12.96e12,"hi":15.84e12},{"t":"2015-05-09T23:44Z","v":10.3e12,"lo":9.27e12,"hi":11.33e12},
{"t":"2015-05-10T01:29Z","v":5.66e12,"lo":5.09e12,"hi":6.23e12},{"t":"2015-05-10T02:58Z","v":7.01e12,"lo":6.31e12,"hi":7.71e12},{"t":"2015-05-10T04:34Z","v":9.85e12,"lo":8.87e12,"hi":10.84e12},{"t":"2015-05-10T08:14Z","v":3.82e12,"lo":3.44e12,"hi":4.20e12},{"t":"2015-05-10T10:48Z","v":10.2e12,"lo":9.18e12,"hi":11.22e12},{"t":"2015-05-10T12:17Z","v":8.49e12,"lo":7.64e12,"hi":9.34e12},{"t":"2015-05-10T13:50Z","v":5.76e12,"lo":5.18e12,"hi":6.34e12},{"t":"2015-05-10T18:32Z","v":18.4e12,"lo":16.56e12,"hi":20.24e12},{"t":"2015-05-10T21:10Z","v":4.35e12,"lo":3.92e12,"hi":4.79e12},{"t":"2015-05-10T23:14Z","v":7.59e12,"lo":6.83e12,"hi":8.35e12},
{"t":"2015-05-11T00:55Z","v":6.37e12,"lo":5.73e12,"hi":7.01e12},{"t":"2015-05-11T03:52Z","v":5.85e12,"lo":5.27e12,"hi":6.44e12},{"t":"2015-05-11T05:36Z","v":6.72e12,"lo":6.05e12,"hi":7.39e12},{"t":"2015-05-11T14:47Z","v":3.82e12,"lo":3.44e12,"hi":4.20e12},{"t":"2015-05-11T16:25Z","v":5.46e12,"lo":4.91e12,"hi":6.01e12},{"t":"2015-05-11T17:53Z","v":6.07e12,"lo":5.46e12,"hi":6.68e12},{"t":"2015-05-11T19:37Z","v":12.3e12,"lo":11.07e12,"hi":13.53e12},{"t":"2015-05-11T21:06Z","v":4.08e12,"lo":3.67e12,"hi":4.49e12},{"t":"2015-05-12T01:44Z","v":3.82e12,"lo":3.44e12,"hi":4.20e12}
],
"geom": [
{"series":"sub-spacecraft lattitude","t":"2015-05-06T00:00Z","val":-43.4},{"series":"sub-spacecraft lattitude","t":"2015-05-06T12:00Z","val":-39.1},{"series":"sub-spacecraft lattitude","t":"2015-05-07T00:00Z","val":-33.8},{"series":"sub-spacecraft lattitude","t":"2015-05-07T12:00Z","val":-27.6},{"series":"sub-spacecraft lattitude","t":"2015-05-08T00:00Z","val":-20.8},{"series":"sub-spacecraft lattitude","t":"2015-05-08T12:00Z","val":-13.8},{"series":"sub-spacecraft lattitude","t":"2015-05-09T00:00Z","val":-6.3},{"series":"sub-spacecraft lattitude","t":"2015-05-09T12:00Z","val":1.8},{"series":"sub-spacecraft lattitude","t":"2015-05-10T00:00Z","val":10.5},{"series":"sub-spacecraft lattitude","t":"2015-05-10T12:00Z","val":19.4},{"series":"sub-spacecraft lattitude","t":"2015-05-11T00:00Z","val":27.6},{"series":"sub-spacecraft lattitude","t":"2015-05-11T12:00Z","val":34.4},{"series":"sub-spacecraft lattitude","t":"2015-05-12T00:00Z","val":40.7},
{"series":"phase angle","t":"2015-05-06T00:00Z","val":66.5},{"series":"phase angle","t":"2015-05-06T12:00Z","val":65.0},{"series":"phase angle","t":"2015-05-07T00:00Z","val":63.4},{"series":"phase angle","t":"2015-05-07T12:00Z","val":61.9},{"series":"phase angle","t":"2015-05-08T00:00Z","val":60.8},{"series":"phase angle","t":"2015-05-08T12:00Z","val":60.0},{"series":"phase angle","t":"2015-05-09T00:00Z","val":59.5},{"series":"phase angle","t":"2015-05-09T12:00Z","val":60.3},{"series":"phase angle","t":"2015-05-10T00:00Z","val":62.6},{"series":"phase angle","t":"2015-05-10T12:00Z","val":65.3},{"series":"phase angle","t":"2015-05-11T00:00Z","val":68.0},{"series":"phase angle","t":"2015-05-11T12:00Z","val":71.2},{"series":"phase angle","t":"2015-05-12T00:00Z","val":74.5}
]
},
"vconcat": [
{
 "width": 746, "height": 361,
 "encoding": {
  "x": {"field": "t", "type": "temporal", "scale": {"type": "utc", "domain": [1430870400000, 1431388800000]},
        "axis": {"values": [1430870400000,1430913600000,1430956800000,1431000000000,1431043200000,1431086400000,1431129600000,1431172800000,1431216000000,1431259200000,1431302400000,1431345600000,1431388800000],
                 "labels": false, "ticks": false, "domain": false, "title": null, "minExtent": 0, "grid": true,
                 "gridColor": {"condition": {"test": "utchours(datum.value) == 0", "value": "#3c3c3c"}, "value": "#d2d2d2"},
                 "gridWidth": {"condition": {"test": "utchours(datum.value) == 0", "value": 1}, "value": 1.6}}},
  "y": {"field": "v", "type": "quantitative", "title": "number density [m⁻³]",
        "scale": {"type": "log", "domain": [5e12, 5e13], "nice": false},
        "axis": {"values": [5e12,1e13,1.5e13,2e13,2.5e13,3e13,3.5e13,4e13,4.5e13,5e13],
                 "labelExpr": "datum.value < 6e12 ? '5.0e+12' : (datum.value > 4.8e13 ? '5.0e+13' : '')",
                 "grid": true, "gridColor": "#d2d2d2", "gridWidth": 1.5, "titlePadding": 10}}
 },
 "layer": [
  {"data": {"name": "cops"}, "mark": {"type": "line", "strokeWidth": 1, "clip": true},
   "encoding": {"color": {"datum": "ROSINA/COPS", "type": "nominal",
      "scale": {"domain": ["ROSINA/COPS", "purely insolation-driven model", "inhomogeneous model"], "range": ["#2f5cb5", "#e0204f", "#36a336"]},
      "legend": {"title": null, "orient": "none", "legendX": 468, "legendY": 4, "direction": "vertical", "symbolType": "M-3,0L3,0", "symbolSize": 178, "symbolStrokeWidth": 1.5, "labelAlign": "right", "labelOffset": -39, "symbolOffset": 227, "rowPadding": 2, "fillColor": "#ffffff", "padding": 4, "labelLimit": 400, "labelFontSize": 13.5}}}},
  {"data": {"name": "cops"}, "mark": {"type": "circle", "size": 18, "color": "#15389a", "opacity": 1, "clip": true}},
  {"data": {"name": "insol"}, "mark": {"type": "rule", "color": "#e0204f", "strokeWidth": 1, "clip": true},
   "encoding": {"y": {"field": "lo", "type": "quantitative", "title": "number density [m⁻³]"}, "y2": {"field": "hi"}}},
  {"data": {"name": "insol"}, "mark": {"type": "tick", "orient": "horizontal", "color": "#e0204f", "size": 7, "thickness": 1, "opacity": 1, "clip": true},
   "encoding": {"y": {"field": "lo", "type": "quantitative", "title": "number density [m⁻³]"}}},
  {"data": {"name": "insol"}, "mark": {"type": "tick", "orient": "horizontal", "color": "#e0204f", "size": 7, "thickness": 1, "opacity": 1, "clip": true},
   "encoding": {"y": {"field": "hi", "type": "quantitative", "title": "number density [m⁻³]"}}},
  {"data": {"name": "insol"}, "mark": {"type": "line", "strokeWidth": 1, "clip": true},
   "encoding": {"color": {"datum": "purely insolation-driven model", "type": "nominal"}}},
  {"data": {"name": "insol"}, "mark": {"type": "circle", "size": 14, "color": "#e0204f", "opacity": 1, "clip": true}},
  {"data": {"name": "inhom"}, "mark": {"type": "rule", "color": "#36a336", "strokeWidth": 1, "clip": true},
   "encoding": {"y": {"field": "lo", "type": "quantitative", "title": "number density [m⁻³]"}, "y2": {"field": "hi"}}},
  {"data": {"name": "inhom"}, "mark": {"type": "tick", "orient": "horizontal", "color": "#36a336", "size": 7, "thickness": 1, "opacity": 1, "clip": true},
   "encoding": {"y": {"field": "lo", "type": "quantitative", "title": "number density [m⁻³]"}}},
  {"data": {"name": "inhom"}, "mark": {"type": "tick", "orient": "horizontal", "color": "#36a336", "size": 7, "thickness": 1, "opacity": 1, "clip": true},
   "encoding": {"y": {"field": "hi", "type": "quantitative", "title": "number density [m⁻³]"}}},
  {"data": {"name": "inhom"}, "mark": {"type": "line", "strokeWidth": 1, "clip": true},
   "encoding": {"color": {"datum": "inhomogeneous model", "type": "nominal"}}},
  {"data": {"name": "inhom"}, "mark": {"type": "circle", "size": 14, "color": "#36a336", "opacity": 1, "clip": true}}
 ]
},
{
 "width": 746, "height": 112,
 "data": {"name": "geom"},
 "mark": {"type": "line", "strokeWidth": 2, "interpolate": "monotone", "clip": true},
 "encoding": {
  "x": {"field": "t", "type": "temporal", "scale": {"type": "utc", "domain": [1430870400000, 1431388800000]},
        "axis": {"values": [1430870400000,1430913600000,1430956800000,1431000000000,1431043200000,1431086400000,1431129600000,1431172800000,1431216000000,1431259200000,1431302400000,1431345600000,1431388800000],
                 "labelExpr": "utchours(datum.value) == 0 ? [utcFormat(datum.value, '%d.%m.%y'), utcFormat(datum.value, '%H:%M')] : ''",
                 "labelFlush": false, "labelOverlap": false, "labelLineHeight": 15, "labelPadding": 8, "title": null, "grid": true,
                 "gridColor": {"condition": {"test": "utchours(datum.value) == 0", "value": "#3c3c3c"}, "value": "#d2d2d2"},
                 "gridWidth": {"condition": {"test": "utchours(datum.value) == 0", "value": 1}, "value": 1.6}}},
  "y": {"field": "val", "type": "quantitative", "scale": {"domain": [-90, 90], "nice": false, "zero": false},
        "axis": {"values": [-60, -30, 0, 30, 60], "title": null, "grid": true,
                 "gridColor": {"condition": {"test": "datum.value == 0", "value": "#9a9a9a"}, "value": "#3c3c3c"},
                 "gridWidth": {"condition": {"test": "datum.value == 0", "value": 2}, "value": 1}}},
  "color": {"field": "series", "type": "nominal",
            "scale": {"domain": ["sub-spacecraft lattitude", "phase angle"], "range": ["#dc143c", "#228b22"]},
            "legend": {"title": null, "orient": "none", "legendX": 513, "legendY": 67, "direction": "vertical", "symbolType": "M-3,0L3,0", "symbolSize": 178, "symbolStrokeWidth": 2, "labelAlign": "right", "labelOffset": -39, "symbolOffset": 182, "rowPadding": 1, "fillColor": "#ffffff", "padding": 4, "labelLimit": 400, "labelFontSize": 13.5}}
 }
}
]
}
